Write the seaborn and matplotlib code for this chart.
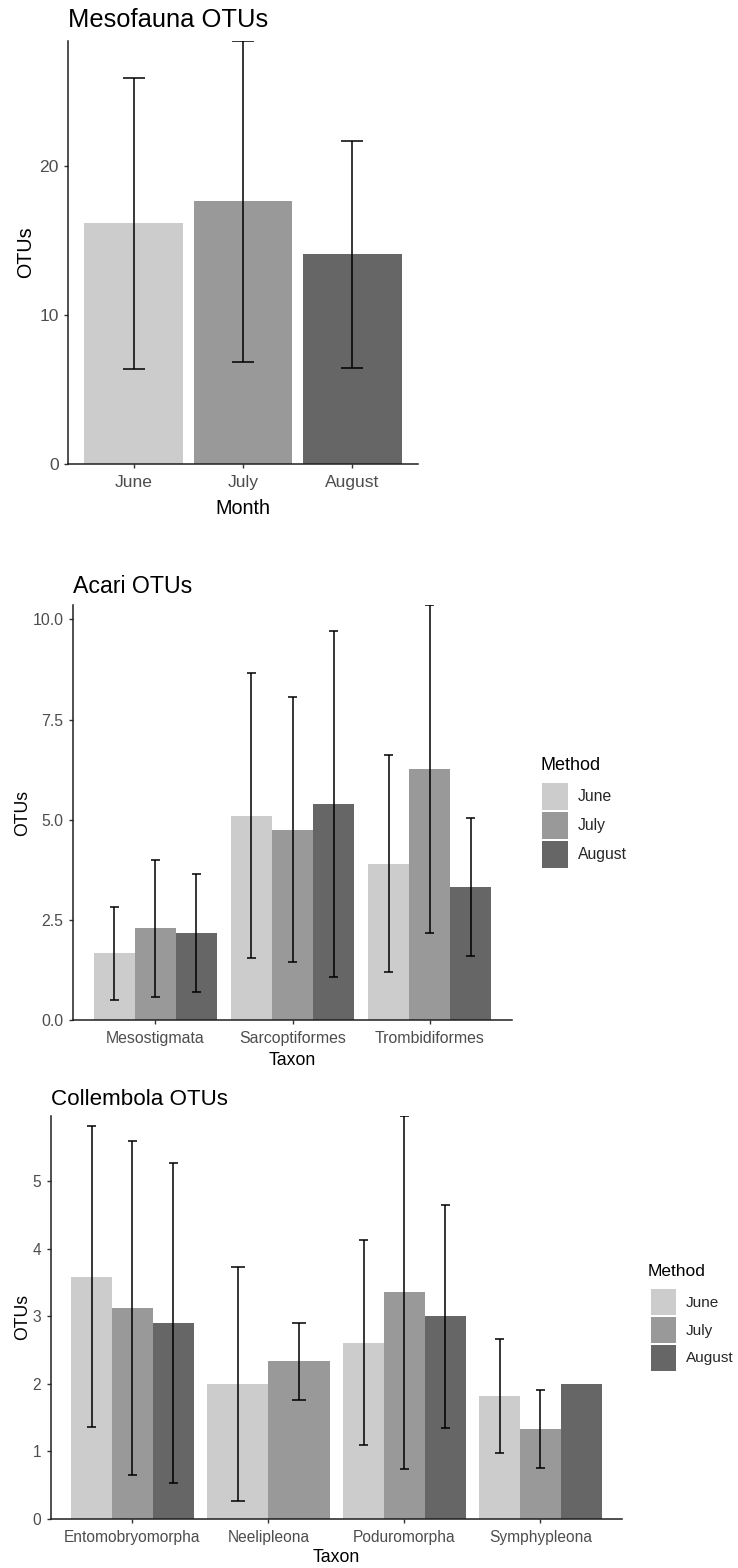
import numpy as np
import pandas as pd
import matplotlib
matplotlib.use("Agg")
import matplotlib.pyplot as plt
from matplotlib.patches import Patch
import seaborn as sns

# ---- data: mean OTUs and standard deviation -------------------------------
months = ["June", "July", "August"]
month_greys = ["#CCCCCC", "#999999", "#666666"]

# Mesofauna, per month
meso_mean = [16.15, 17.60, 14.05]
meso_sd = [9.75, 10.75, 7.60]

# Acari orders
acari_taxa = ["Mesostigmata", "Sarcoptiformes", "Trombidiformes"]
acari_june_mean = [1.67, 5.10, 3.90]
acari_july_mean = [2.29, 4.75, 6.27]
acari_aug_mean = [2.17, 5.39, 3.33]
acari_june_sd = [1.16, 3.56, 2.71]
acari_july_sd = [1.71, 3.31, 4.09]
acari_aug_sd = [1.47, 4.31, 1.72]

# Collembola orders (no August record for Neelipleona, single August sample for Symphypleona)
coll_taxa = ["Entomobryomorpha", "Neelipleona", "Poduromorpha", "Symphypleona"]
coll_june_mean = [3.58, 2.00, 2.61, 1.82]
coll_july_mean = [3.12, 2.33, 3.35, 1.33]
coll_aug_mean = [2.90, np.nan, 3.00, 2.00]
coll_june_sd = [2.225, 1.73, 1.515, 0.84]
coll_july_sd = [2.475, 0.575, 2.61, 0.58]
coll_aug_sd = [2.37, np.nan, 1.65, np.nan]


def long_table(taxa, means, sds):
    rows = []
    for month, m_list, s_list in zip(months, means, sds):
        for taxon, m, s in zip(taxa, m_list, s_list):
            if not np.isnan(m):
                rows.append({"Taxon": taxon, "Method": month, "OTUs": m, "SD": s})
    return pd.DataFrame(rows)


meso_df = pd.DataFrame({"Month": months, "Method": months, "OTUs": meso_mean, "SD": meso_sd})
acari_df = long_table(acari_taxa,
                      [acari_june_mean, acari_july_mean, acari_aug_mean],
                      [acari_june_sd, acari_july_sd, acari_aug_sd])
coll_df = long_table(coll_taxa,
                     [coll_june_mean, coll_july_mean, coll_aug_mean],
                     [coll_june_sd, coll_july_sd, coll_aug_sd])

# ---- styling ---------------------------------------------------------------
sns.set_theme(style="ticks")
plt.rcParams["font.family"] = ["Liberation Sans", "DejaVu Sans"]
AXIS_COL = "#1f1f1f"
TICK_TXT = "#4D4D4D"

W, H = 738, 1568
fig = plt.figure(figsize=(W / 100, H / 100), dpi=100)
palette = dict(zip(months, month_greys))


def panel(l, t, r, b):
    return fig.add_axes([l / W, 1 - b / H, (r - l) / W, (b - t) / H])


def draw_panel(ax, df, xcol, order, title, xlabel, sizes, yticks, yfmt,
               ylab_x, xlab_y, title_pad, legend_box=None):
    t_size, tick_size, lab_size = sizes
    sns.barplot(data=df, x=xcol, y="OTUs", hue="Method", order=order,
                hue_order=months, palette=palette, width=0.9, errorbar=None,
                saturation=1, linewidth=0, edgecolor="none", ax=ax, legend=False)

    # dodge like a position_dodge: bars in a group share the full group width
    for h, cont in enumerate(ax.containers):
        level = months[h]
        for bar in cont:
            center = bar.get_x() + bar.get_width() / 2
            cat = int(round(center))
            sub = df[df[xcol] == order[cat]]
            present = [m for m in months if m in set(sub["Method"])]
            k = len(present)
            j = present.index(level)
            w = 0.9 / k
            left = cat - 0.45 + j * w
            bar.set_x(left)
            bar.set_width(w)
            row = sub[sub["Method"] == level].iloc[0]
            m, s = row["OTUs"], row["SD"]
            if not np.isnan(s):
                x = left + w / 2
                ax.vlines(x, m - s, m + s, color="black", lw=1.1, zorder=3)
                ax.hlines([m - s, m + s], x - 0.1 / k, x + 0.1 / k,
                          color="black", lw=1.1, zorder=3)

    top = np.nanmax(df["OTUs"] + df["SD"].fillna(0))
    ax.set_ylim(0, top)
    ax.set_xlim(-0.6, len(order) - 0.4)
    ax.set_yticks(yticks)
    ax.set_yticklabels([yfmt.format(v) for v in yticks])

    for side in ("top", "right"):
        ax.spines[side].set_visible(False)
    for side in ("left", "bottom"):
        ax.spines[side].set_color(AXIS_COL)
        ax.spines[side].set_linewidth(1.1)
    ax.tick_params(axis="both", length=2.6, width=1.0, color="#333333",
                   labelsize=tick_size, labelcolor=TICK_TXT)
    ax.tick_params(axis="x", pad=5.0)
    ax.tick_params(axis="y", pad=4.2)

    ax.set_title(title, loc="left", fontsize=t_size, color="black", pad=title_pad)
    ax.set_xlabel(xlabel, fontsize=lab_size, color="black")
    ax.set_ylabel("OTUs", fontsize=lab_size, color="black")
    ax.xaxis.set_label_coords(0.5, xlab_y)
    ax.xaxis.label.set_va("top")
    ax.yaxis.set_label_coords(ylab_x, 0.5)

    if legend_box:
        # (title x, title top, key left, key top, label size, title size, key w, key h)
        tx, ty, kx, ky, fs, tfs, klen, khgt = legend_box
        fig.text(tx / W, 1 - ty / H, "Method", fontsize=tfs, color="black",
                 ha="left", va="top")
        handles = [Patch(facecolor=palette[m], edgecolor="none", label=m) for m in months]
        ax.legend(handles=handles, loc="upper left",
                  bbox_to_anchor=(kx / W, 1 - ky / H), bbox_transform=fig.transFigure,
                  frameon=False, fontsize=fs,
                  handlelength=klen, handleheight=khgt, labelspacing=0.12,
                  handletextpad=0.62, borderpad=0, borderaxespad=0)


# Mesofauna
ax1 = panel(68, 41, 418, 464)
draw_panel(ax1, meso_df, "Month", months, "Mesofauna OTUs", "Month",
           (18.4, 12.6, 14.2), [0, 10, 20], "{:d}",
           ylab_x=-0.094, xlab_y=-0.082, title_pad=10)

# Acari
ax2 = panel(73, 605, 512, 1020)
draw_panel(ax2, acari_df, "Taxon", acari_taxa, "Acari OTUs", "Taxon",
           (16.7, 11.4, 12.7), [0, 2.5, 5.0, 7.5, 10.0], "{:.1f}",
           ylab_x=-0.096, xlab_y=-0.078, title_pad=8.6,
           legend_box=(540, 757, 541.5, 783, 11.3, 13.0, 1.72, 2.27))

# Collembola
ax3 = panel(50.7, 1116, 622, 1519)
draw_panel(ax3, coll_df, "Taxon", coll_taxa, "Collembola OTUs", "Taxon",
           (16.1, 11.2, 12.7), [0, 1, 2, 3, 4, 5], "{:d}",
           ylab_x=-0.0345, xlab_y=-0.075, title_pad=8,
           legend_box=(648, 1264, 650.5, 1289, 11.0, 12.5, 1.7, 2.24))

fig.savefig("out.png", dpi=100)
